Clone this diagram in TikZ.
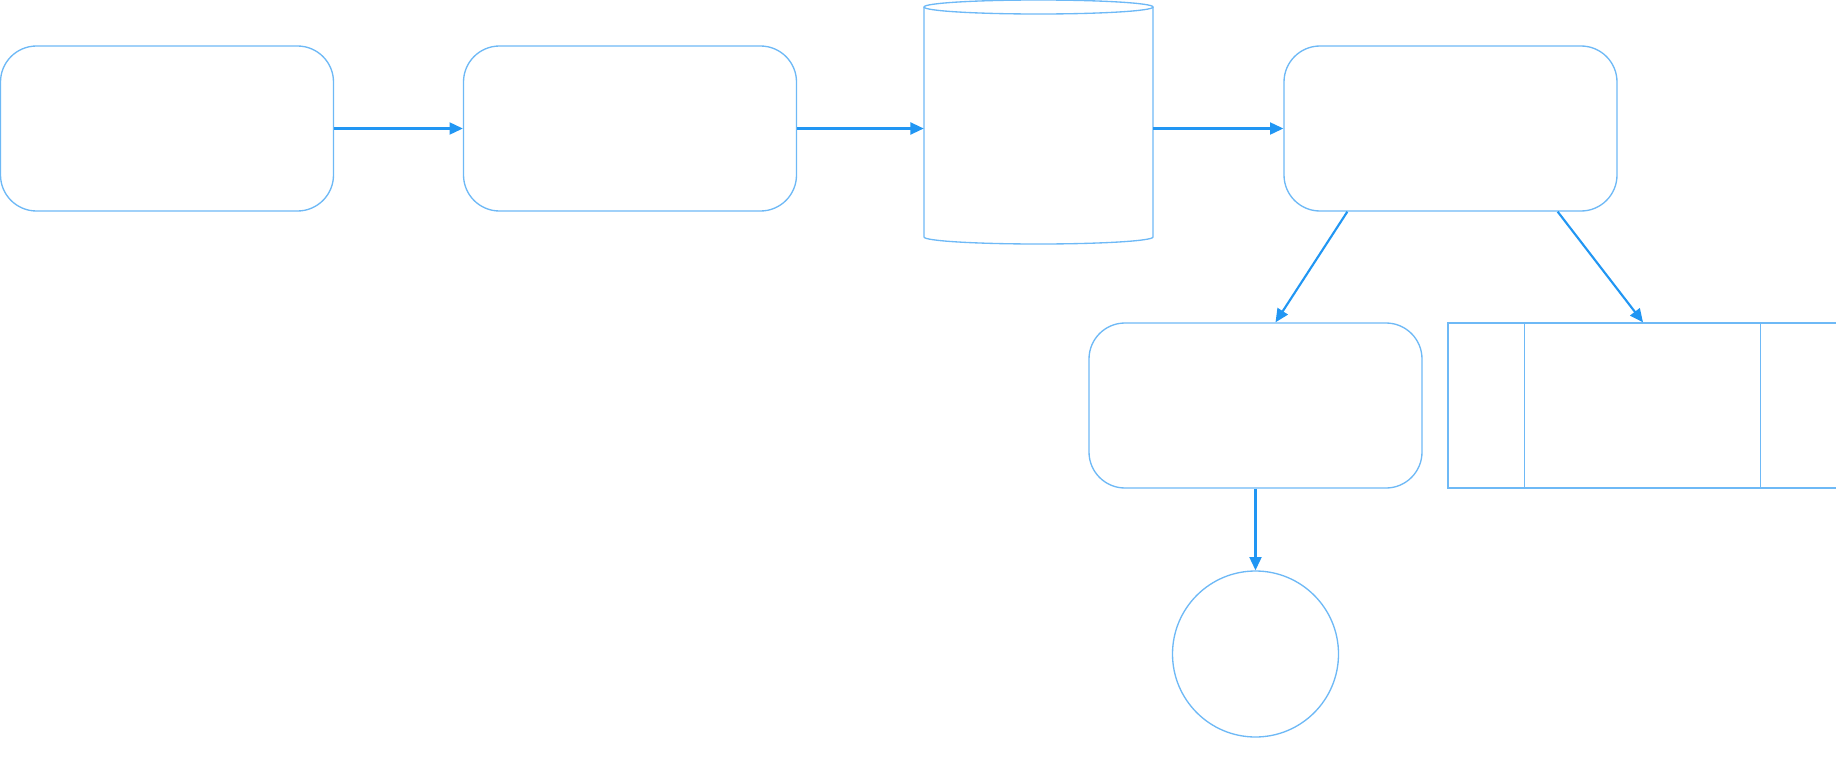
\documentclass[tikz,border=0pt]{standalone}
\usetikzlibrary{arrows.meta}
\definecolor{shapeblue}{RGB}{110,185,246}
\definecolor{arrowblue}{RGB}{33,150,243}
\tikzset{
  shp/.style={draw=shapeblue, line width=1pt, fill=white, inner sep=0pt},
  rbox/.style={shp, rounded corners=27pt, minimum width=249.75pt, minimum height=123.75pt},
  conn/.style={draw=arrowblue, line width=1.6pt, -{Triangle[length=10pt,width=9pt]}}
}
\begin{document}
\begin{tikzpicture}[x=0.75pt, y=-0.75pt]
\useasboundingbox (0,0) rectangle (1836,782);
\node[rbox] (b1) at (167,128.5) {};
\node[rbox] (b2) at (630,128.5) {};
\node[rbox] (b3) at (1450.5,128.5) {};
\node[rbox] (b4) at (1255.5,405.5) {};
\node[shp, minimum width=292.5pt, minimum height=123.75pt] (proc) at (1643,405.5) {};
\draw[shapeblue, line width=1pt] ([xshift=57.75pt]proc.north west) -- ([xshift=57.75pt]proc.south west);
\draw[shapeblue, line width=1pt] ([xshift=-58.5pt]proc.north east) -- ([xshift=-58.5pt]proc.south east);
\node[shp, circle, minimum size=124.5pt] (circ) at (1255.5,654) {};
% cylinder
\node[inner sep=0pt, minimum width=171.75pt, minimum height=183pt] (cyl) at (1038.5,122) {};
\draw[shapeblue, line width=1pt] (924,7) -- (924,237) arc[start angle=180, end angle=0, x radius=114.5, y radius=7] -- (1153,7);
\draw[shapeblue, line width=1pt] (1038.5,7) ellipse [x radius=114.5, y radius=7];
% connectors
\draw[conn] (b1.east) -- (b2.west);
\draw[conn] (b2.east) -- (cyl.west |- b2.east);
\draw[conn] (cyl.east |- b3.west) -- (b3.west);
\draw[conn] ([xshift=48pt]b3.south west) -- ([xshift=15pt]b4.north);
\draw[conn] ([xshift=-45pt]b3.south east) -- (proc.north);
\draw[conn] (b4.south) -- (circ.north);
\end{tikzpicture}
\end{document}
